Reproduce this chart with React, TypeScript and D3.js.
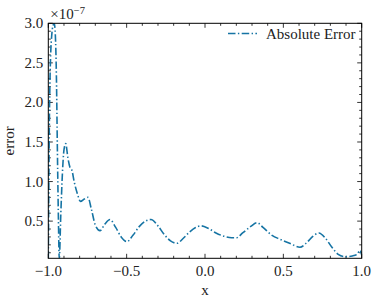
import React, { useEffect, useRef } from 'react';
import * as d3 from 'd3';

// absolute error curve, x in [-1, 1], error in units of 1e-7
const xs = [
  -1.0, -0.997, -0.994, -0.99, -0.985, -0.978, -0.97, -0.962, -0.955, -0.948,
  -0.942, -0.936, -0.93, -0.92, -0.91, -0.9, -0.889, -0.875, -0.862, -0.849,
  -0.835, -0.815, -0.795, -0.77, -0.747, -0.725, -0.7, -0.67, -0.64, -0.606,
  -0.57, -0.535, -0.498, -0.46, -0.42, -0.38, -0.345, -0.3, -0.26, -0.22,
  -0.179, -0.14, -0.1, -0.06, -0.027, 0.02, 0.07, 0.12, 0.17, 0.202,
  0.24, 0.29, 0.332, 0.37, 0.428, 0.48, 0.54, 0.606, 0.65, 0.69,
  0.727, 0.77, 0.81, 0.85, 0.893, 0.94, 0.97, 0.99, 1.0,
];
const errs = [
  0.03, 0.8, 1.6, 2.2, 2.6, 2.85, 2.97, 3.0, 2.85, 2.3,
  1.4, 0.6, 0.03, 0.6, 1.1, 1.4, 1.48, 1.3, 1.18, 1.14,
  1.0, 0.85, 0.75, 0.78, 0.8, 0.65, 0.45, 0.38, 0.46, 0.52,
  0.42, 0.3, 0.24, 0.32, 0.43, 0.5, 0.52, 0.44, 0.33, 0.25,
  0.22, 0.28, 0.36, 0.42, 0.44, 0.41, 0.35, 0.31, 0.29, 0.29,
  0.35, 0.43, 0.48, 0.42, 0.32, 0.27, 0.22, 0.17, 0.23, 0.31,
  0.35, 0.28, 0.17, 0.08, 0.05, 0.06, 0.08, 0.13, 0.07,
];
const xTicks = [-1.0, -0.5, 0.0, 0.5, 1.0];
const yTicks = [0.5, 1.0, 1.5, 2.0, 2.5, 3.0];
const seriesName = 'Absolute Error';

const W = 377, H = 302;
const M = { left: 48.3, right: 15.3, top: 23.3, bottom: 43.7 };
const COLOR = '#1674a4';
const FONT = '"Liberation Serif", "DejaVu Serif", serif';
const DASH = '7.5,2.4,1.4,2.4';

export default function App() {
  const ref = useRef<SVGSVGElement>(null);

  useEffect(() => {
    const svg = d3.select(ref.current);
    svg.selectAll('*').remove();

    const x = d3.scaleLinear().domain([-1, 1]).range([M.left, W - M.right]);
    const y = d3.scaleLinear().domain([0.03, 3.0]).range([H - M.bottom, M.top]);
    const x0 = M.left, x1 = W - M.right, y0 = H - M.bottom, y1 = M.top;

    const fmt = d3.format('.1f');
    const minorX = d3.range(-10, 11).map(i => i / 10).filter(v => !xTicks.some(t => Math.abs(t - v) < 1e-9));
    const minorY = d3.range(1, 30).map(i => i / 10).filter(v => !yTicks.some(t => Math.abs(t - v) < 1e-9));

    // ticks inward on all four sides
    const tk = svg.append('g').attr('stroke', '#000').attr('stroke-width', 0.8);
    xTicks.forEach(v => {
      tk.append('line').attr('x1', x(v)).attr('x2', x(v)).attr('y1', y0).attr('y2', y0 - 4.5);
      tk.append('line').attr('x1', x(v)).attr('x2', x(v)).attr('y1', y1).attr('y2', y1 + 4.5);
    });
    minorX.forEach(v => {
      tk.append('line').attr('x1', x(v)).attr('x2', x(v)).attr('y1', y0).attr('y2', y0 - 2.5);
      tk.append('line').attr('x1', x(v)).attr('x2', x(v)).attr('y1', y1).attr('y2', y1 + 2.5);
    });
    yTicks.forEach(v => {
      tk.append('line').attr('x1', x0).attr('x2', x0 + 4.5).attr('y1', y(v)).attr('y2', y(v));
      tk.append('line').attr('x1', x1).attr('x2', x1 - 4.5).attr('y1', y(v)).attr('y2', y(v));
    });
    minorY.forEach(v => {
      tk.append('line').attr('x1', x0).attr('x2', x0 + 2.5).attr('y1', y(v)).attr('y2', y(v));
      tk.append('line').attr('x1', x1).attr('x2', x1 - 2.5).attr('y1', y(v)).attr('y2', y(v));
    });

    const pts = xs.map((v, i) => [v, errs[i]] as [number, number]);
    const line = d3.line<[number, number]>()
      .x(d => x(d[0]))
      .y(d => y(d[1]))
      .curve(d3.curveMonotoneX);

    svg.append('defs').append('clipPath').attr('id', 'clip')
      .append('rect').attr('x', x0).attr('y', y1).attr('width', x1 - x0).attr('height', y0 - y1);

    svg.append('path')
      .datum(pts)
      .attr('clip-path', 'url(#clip)')
      .attr('fill', 'none')
      .attr('stroke', COLOR)
      .attr('stroke-width', 1.6)
      .attr('stroke-dasharray', DASH)
      .attr('d', line);

    svg.append('rect')
      .attr('x', x0).attr('y', y1).attr('width', x1 - x0).attr('height', y0 - y1)
      .attr('fill', 'none').attr('stroke', '#000').attr('stroke-width', 1);

    const txt = svg.append('g').attr('font-family', FONT).attr('font-size', 15).attr('fill', '#222');
    xTicks.forEach(v => {
      txt.append('text').attr('x', x(v)).attr('y', y0 + 18).attr('text-anchor', 'middle')
        .text(fmt(v).replace('-', '\u2212'));
    });
    yTicks.forEach(v => {
      txt.append('text').attr('x', x0 - 5).attr('y', y(v) + 5).attr('text-anchor', 'end').text(fmt(v));
    });

    // offset text
    const off = txt.append('text').attr('x', x0 + 2).attr('y', y1 - 4);
    off.append('tspan').text('\u00d710');
    off.append('tspan').attr('font-size', 10.5).attr('dy', -5.5).text('\u22127');

    txt.append('text').attr('x', x(0)).attr('y', 295).attr('text-anchor', 'middle').text('x');
    txt.append('text')
      .attr('transform', `translate(14,${(y0 + y1) / 2}) rotate(-90)`)
      .attr('text-anchor', 'middle').text('error');

    // legend
    const lg = svg.append('g');
    lg.append('line').attr('x1', 228).attr('x2', 257).attr('y1', 33.5).attr('y2', 33.5)
      .attr('stroke', COLOR).attr('stroke-width', 1.6).attr('stroke-dasharray', DASH);
    txt.append('text').attr('x', 266).attr('y', 38.5).text(seriesName);
  }, []);

  return (
    <svg ref={ref} width={W} height={H}
      style={{ position: 'absolute', left: 0, top: 0, background: '#fff' }} />
  );
}
